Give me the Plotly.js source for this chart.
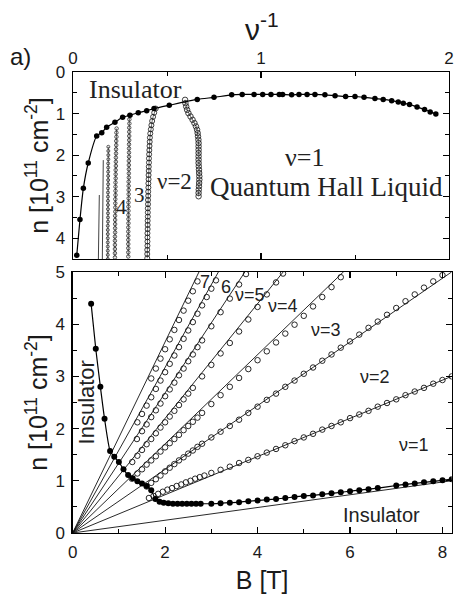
<!DOCTYPE html>
<html><head><meta charset="utf-8">
<script src="https://cdn.plot.ly/plotly-3.0.1.min.js"></script>
<style>html,body{margin:0;padding:0;background:#fff}#chart{width:454px;height:600px}</style>
</head><body><div id="chart"></div>
<script>
// ---------- data ----------
// conversion constant of the fan lines: n[1e11 cm^-2] = K * nu * B[T]
const K = 0.244;
const lineNu = [0.5, 1.5, 2.5, 3.5, 4.5, 5.5, 6.5, 7.5];
const bRange = [0, 8.2];

// bottom panel: insulator boundary (filled)
const insB = [0.40,0.50,0.60,0.69,0.81,0.90,1.00,1.10,1.20,1.30,1.40,1.50,1.60,1.70,1.79,1.88,1.97,2.07,2.17,2.27,2.37,2.47,2.57,2.67,2.77,3.00,3.20,3.40,3.60,3.80,4.00,4.20,4.40,4.60,4.80,5.00,5.20,5.40,5.60,5.80,6.00,6.20,6.40,6.60,7.00,7.20,7.40,7.60,7.80,8.00,8.20];
const insN = [4.39,3.53,2.80,2.19,1.57,1.46,1.36,1.22,1.11,1.05,0.99,0.95,0.90,0.82,0.65,0.60,0.58,0.57,0.56,0.56,0.56,0.56,0.56,0.56,0.56,0.56,0.57,0.58,0.59,0.61,0.62,0.64,0.65,0.67,0.69,0.71,0.72,0.74,0.76,0.78,0.80,0.82,0.84,0.86,0.91,0.93,0.95,0.97,0.99,1.01,1.03];

// bottom panel: QH transition points (open circles)
const s15B = [1.65,1.75,1.85,1.95,2.05,2.15,2.25,2.35,2.45,2.55,2.65,2.75,2.85,3.0,3.2,3.4,3.6,3.8,4.0,4.2,4.4,4.6,4.8,5.0,5.2,5.4,5.6,5.8,6.0,6.2,6.4,6.6,6.8,7.0,7.2,7.4,7.6,7.8,8.0,8.2];
const s15N = [0.67,0.71,0.75,0.79,0.83,0.86,0.90,0.93,0.97,1.00,1.04,1.07,1.10,1.15,1.21,1.27,1.34,1.40,1.47,1.54,1.61,1.68,1.76,1.83,1.90,1.98,2.05,2.12,2.20,2.27,2.34,2.42,2.49,2.56,2.64,2.71,2.78,2.86,2.93,3.00];
const s25B = [1.6,1.7,1.8,1.9,2.0,2.1,2.2,2.3,2.4,2.5,2.6,2.7,2.8,3.0,3.2,3.4,3.6,3.8,4.0,4.2,4.4,4.6,4.8,5.0,5.2,5.4,5.6,5.8,6.0,6.2,6.4,6.6,6.8,7.0,7.2,7.4,7.6,7.8,8.0];
const s25N = [0.89,0.96,1.03,1.10,1.18,1.25,1.32,1.39,1.45,1.52,1.58,1.65,1.71,1.83,1.94,2.05,2.17,2.30,2.42,2.55,2.67,2.80,2.92,3.05,3.17,3.30,3.42,3.55,3.67,3.80,3.93,4.05,4.18,4.31,4.44,4.57,4.70,4.82,4.94];
const s35B = [1.28,1.4,1.5,1.6,1.7,1.8,1.9,2.0,2.1,2.2,2.3,2.4,2.5,2.6,2.7,2.8,3.0,3.2,3.4,3.6,3.8,4.0,4.2,4.4,4.6,4.8,5.0,5.2,5.4,5.6,5.8];
const s35N = [1.04,1.14,1.22,1.31,1.39,1.47,1.56,1.64,1.72,1.80,1.88,1.97,2.05,2.13,2.21,2.30,2.47,2.64,2.80,2.97,3.14,3.31,3.48,3.65,3.82,3.99,4.16,4.34,4.52,4.71,4.90];
const s45B = [1.29,1.4,1.5,1.6,1.7,1.8,1.9,2.0,2.1,2.2,2.3,2.4,2.5,2.6,2.8,3.0,3.2,3.4,3.6,3.8,4.0,4.2,4.4,4.55];
const s45N = [1.36,1.48,1.59,1.70,1.80,1.91,2.02,2.12,2.23,2.34,2.45,2.56,2.67,2.78,3.00,3.22,3.44,3.64,3.86,4.09,4.33,4.57,4.80,4.97];
const s55B = [1.39,1.5,1.6,1.7,1.8,1.9,2.0,2.1,2.2,2.3,2.4,2.5,2.6,2.7,2.8,3.0,3.2,3.4,3.6,3.75];
const s55N = [1.80,1.95,2.08,2.22,2.35,2.48,2.62,2.75,2.88,3.02,3.15,3.29,3.42,3.56,3.69,3.96,4.23,4.49,4.76,4.96];
const s65B = [1.4,1.5,1.6,1.7,1.8,1.9,2.0,2.1,2.2,2.3,2.4,2.5,2.6,2.7,2.8,2.9,3.0,3.1];
const s65N = [2.12,2.28,2.44,2.60,2.76,2.92,3.08,3.24,3.40,3.56,3.72,3.88,4.04,4.20,4.36,4.52,4.68,4.84];
const s75B = [1.70,1.80,1.90,2.00,2.10,2.20,2.30,2.40,2.50,2.60,2.70];
const s75N = [2.96,3.15,3.34,3.52,3.71,3.89,4.08,4.26,4.45,4.63,4.82];

// top panel: insulator boundary vs 1/nu (filled)
const topInv = [0.020,0.037,0.055,0.081,0.126,0.153,0.179,0.223,0.264,0.303,0.347,0.392,0.431,0.512,0.661,0.750,0.844,0.900,0.963,1.009,1.053,1.097,1.115,1.163,1.202,1.245,1.287,1.340,1.394,1.450,1.500,1.548,1.606,1.650,1.695,1.730,1.757,1.790,1.830,1.870,1.900,1.930];
const topN   = [4.41,3.55,2.80,2.19,1.54,1.46,1.33,1.21,1.09,1.04,0.98,0.93,0.88,0.80,0.66,0.61,0.55,0.54,0.54,0.54,0.54,0.54,0.54,0.55,0.54,0.54,0.54,0.55,0.57,0.59,0.59,0.61,0.64,0.66,0.69,0.72,0.75,0.78,0.84,0.90,0.96,1.01];

// top panel: transition columns
const c15N = [0.67,0.75,0.83,0.91,0.99,1.07,1.15,1.23,1.31,1.39,1.47,1.55,1.63,1.71,1.79,1.87,1.95,2.03,2.11,2.19,2.27,2.35,2.43,2.51,2.59,2.67,2.75,2.83,2.91,2.99];
const c15X = [0.596,0.598,0.602,0.607,0.614,0.625,0.636,0.646,0.654,0.660,0.663,0.665,0.667,0.668,0.668,0.668,0.668,0.668,0.668,0.668,0.669,0.670,0.671,0.672,0.672,0.671,0.670,0.669,0.668,0.668];
const c25N = [0.88,0.98,1.08,1.18,1.28,1.38,1.48,1.58,1.68,1.78,1.88,1.98,2.08,2.18,2.28,2.38,2.48,2.58,2.68,2.78,2.88,2.98,3.08,3.18,3.28,3.38,3.48,3.58,3.68,3.78,3.88,3.98,4.08,4.18,4.28,4.38,4.48];
const c25X = [0.440,0.432,0.426,0.421,0.417,0.414,0.411,0.409,0.408,0.407,0.406,0.405,0.404,0.404,0.403,0.403,0.402,0.402,0.401,0.401,0.400,0.400,0.399,0.399,0.398,0.398,0.398,0.397,0.397,0.397,0.396,0.396,0.396,0.396,0.395,0.395,0.395];
const c35N = [1.04,1.14,1.24,1.34,1.44,1.54,1.64,1.74,1.84,1.94,2.04,2.14,2.24,2.34,2.44,2.54,2.64,2.74,2.84,2.94,3.04,3.14,3.24,3.34,3.44,3.54,3.64,3.74,3.84,3.94,4.04,4.14,4.24,4.34,4.44];
const c35X = [0.300,0.300,0.300,0.299,0.299,0.299,0.299,0.298,0.298,0.298,0.298,0.297,0.297,0.297,0.297,0.297,0.296,0.296,0.296,0.296,0.296,0.295,0.295,0.295,0.295,0.295,0.295,0.294,0.294,0.294,0.294,0.294,0.294,0.294,0.294];
const c45N = [1.36,1.46,1.56,1.66,1.76,1.86,1.96,2.06,2.16,2.26,2.36,2.46,2.56,2.66,2.76,2.86,2.96,3.06,3.16,3.26,3.36,3.46,3.56,3.66,3.76,3.86,3.96,4.06,4.16,4.26,4.36,4.46];
const c45X = [0.232,0.231,0.231,0.230,0.230,0.229,0.229,0.228,0.228,0.228,0.227,0.227,0.227,0.226,0.226,0.226,0.226,0.225,0.225,0.225,0.225,0.224,0.224,0.224,0.224,0.224,0.223,0.223,0.223,0.223,0.223,0.223];
const c55N = [1.80,1.90,2.00,2.10,2.20,2.30,2.40,2.50,2.60,2.70,2.80,2.90,3.00,3.10,3.20,3.30,3.40,3.50,3.60,3.70,3.80,3.90,4.00,4.10,4.20,4.30,4.40,4.50];
const c55X = [0.188,0.188,0.188,0.188,0.187,0.187,0.187,0.187,0.187,0.187,0.186,0.186,0.186,0.186,0.186,0.186,0.186,0.186,0.186,0.185,0.185,0.185,0.185,0.185,0.185,0.185,0.185,0.185];
const c65N = [2.12,2.60,3.00,3.50,4.00,4.50];
const c65X = [0.161,0.160,0.159,0.158,0.157,0.156];
const c75N = [2.96,3.50,4.00,4.50];
const c75X = [0.140,0.138,0.136,0.135];

// ---------- traces ----------
const traces = [];
const openB = [[s15B,s15N],[s25B,s25N],[s35B,s35N],[s45B,s45N],[s55B,s55N],[s65B,s65N],[s75B,s75N]];
openB.forEach(function(s){
  traces.push({x:s[0], y:s[1], xaxis:'x', yaxis:'y', mode:'markers', type:'scatter',
    marker:{symbol:'circle-open', size:5.5, color:'#111', line:{width:0.9}}});
});
lineNu.forEach(function(nu){
  traces.push({x:[bRange[0], bRange[1]], y:[K*nu*bRange[0], K*nu*bRange[1]], xaxis:'x', yaxis:'y',
    mode:'lines', type:'scatter', line:{color:'#111', width:0.9}});
});
traces.push({x:insB, y:insN, xaxis:'x', yaxis:'y', mode:'lines+markers', type:'scatter',
  line:{color:'#000', width:1.2, shape:'spline', smoothing:0.6}, marker:{symbol:'circle', size:6, color:'#000'}});

// top panel
const cols = [[c15X,c15N,5.5,0.8],[c25X,c25N,5,0.8],[c35X,c35N,3.5,0.7],[c45X,c45N,3.5,0.7],[c55X,c55N,3,0.7]];
cols.forEach(function(c){
  traces.push({x:c[0], y:c[1], xaxis:'x2', yaxis:'y2', mode:'lines+markers', type:'scatter',
    line:{color:'#111', width:0.6}, marker:{symbol:'circle-open', size:c[2], color:'#111', line:{width:c[3]}}});
});
[[c65X,c65N],[c75X,c75N]].forEach(function(c){
  traces.push({x:c[0], y:c[1], xaxis:'x2', yaxis:'y2', mode:'lines', type:'scatter', line:{color:'#111', width:0.8}});
});
traces.push({x:topInv, y:topN, xaxis:'x2', yaxis:'y2', mode:'lines+markers', type:'scatter',
  line:{color:'#000', width:1.2, shape:'spline', smoothing:0.6}, marker:{symbol:'circle', size:5.5, color:'#000'}});

// ---------- layout ----------
const sans = 'Liberation Sans, Arial, sans-serif';
const serif = 'Liberation Serif, Times New Roman, serif';
function ax(extra){
  return Object.assign({showline:true, linecolor:'#000', linewidth:1.3, mirror:'allticks',
    ticks:'inside', ticklen:6, tickwidth:1.2, tickcolor:'#000', showgrid:false, zeroline:false,
    tickfont:{family:sans, size:17, color:'#1a1a1a'}, automargin:false, fixedrange:true}, extra);
}
function mn(d){ return {dtick:d, ticks:'inside', ticklen:4, tickwidth:1, tickcolor:'#000', showgrid:false}; }
const ytitle = 'n [10<sup>11</sup> cm<sup>-2</sup>]';
const layout = {
  width:454, height:600, margin:{l:0,r:0,t:0,b:0}, showlegend:false,
  paper_bgcolor:'#fff', plot_bgcolor:'#fff',
  xaxis: ax({domain:[0.160,0.995], range:bRange, dtick:2, minor:mn(1), anchor:'y',
    ticklabelstandoff:3,
    title:{text:'B [T]', font:{family:sans, size:25, color:'#1a1a1a'}, standoff:10}}),
  yaxis: ax({domain:[0.1117,0.5467], range:[0,5], dtick:1, minor:mn(0.5), anchor:'x',
    ticklabelstandoff:3,
    title:{text:ytitle, font:{family:sans, size:25, color:'#1a1a1a'}, standoff:0}}),
  xaxis2: ax({domain:[0.1608,0.989], range:[0,2], dtick:1, minor:mn(0.5), anchor:'y2', side:'top',
    ticklabelstandoff:0}),
  yaxis2: ax({domain:[0.5683,0.88], range:[4.5,0], dtick:1, minor:mn(0.5), anchor:'x2',
    ticklabelstandoff:3,
    title:{text:ytitle, font:{family:sans, size:25, color:'#1a1a1a'}, standoff:0}}),
  annotations:[
    {text:'\u03bd<sup>-1</sup>', xref:'paper', yref:'paper', x:(262/454), y:(600-27)/600, xanchor:'center', yanchor:'middle', showarrow:false, font:{family:sans, size:30, color:'#1a1a1a'}},
    {text:'a)', xref:'paper', yref:'paper', x:20/454, y:(600-56)/600, xanchor:'center', yanchor:'middle', showarrow:false, font:{family:sans, size:24, color:'#1a1a1a'}},
    {text:'Insulator', xref:'x2', yref:'y2', x:0.33, y:0.43, showarrow:false, font:{family:serif, size:26, color:'#222'}},
    {text:'\u03bd=1', xref:'x2', yref:'y2', x:1.23, y:2.05, showarrow:false, font:{family:serif, size:26, color:'#222'}},
    {text:'Quantum Hall Liquid', xref:'x2', yref:'y2', x:1.35, y:2.77, showarrow:false, font:{family:serif, size:27, color:'#222'}},
    {text:'\u03bd=2', xref:'x2', yref:'y2', x:0.54, y:2.63, showarrow:false, font:{family:serif, size:23, color:'#222'}},
    {text:'3', xref:'x2', yref:'y2', x:0.356, y:2.96, showarrow:false, font:{family:serif, size:21, color:'#222'}},
    {text:'4', xref:'x2', yref:'y2', x:0.26, y:3.25, showarrow:false, font:{family:serif, size:21, color:'#222'}},
    {text:'7', xref:'x', yref:'y', x:2.86, y:4.80, showarrow:false, font:{family:sans, size:18, color:'#222'}},
    {text:'6', xref:'x', yref:'y', x:3.31, y:4.72, showarrow:false, font:{family:sans, size:18, color:'#222'}},
    {text:'\u03bd=5', xref:'x', yref:'y', x:3.83, y:4.56, showarrow:false, font:{family:sans, size:18, color:'#222'}},
    {text:'\u03bd=4', xref:'x', yref:'y', x:4.55, y:4.34, showarrow:false, font:{family:sans, size:18, color:'#222'}},
    {text:'\u03bd=3', xref:'x', yref:'y', x:5.49, y:3.88, showarrow:false, font:{family:sans, size:18, color:'#222'}},
    {text:'\u03bd=2', xref:'x', yref:'y', x:6.53, y:2.99, showarrow:false, font:{family:sans, size:18, color:'#222'}},
    {text:'\u03bd=1', xref:'x', yref:'y', x:7.39, y:1.68, showarrow:false, font:{family:sans, size:18, color:'#222'}},
    {text:'Insulator', xref:'x', yref:'y', x:6.67, y:0.34, showarrow:false, font:{family:sans, size:20, color:'#222'}},
    {text:'Insulator', xref:'x', yref:'y', x:0.31, y:2.5, textangle:-90, showarrow:false, font:{family:sans, size:22, color:'#222'}}
  ]
};
Plotly.newPlot('chart', traces, layout, {displayModeBar:false, staticPlot:true});
</script></body></html>
